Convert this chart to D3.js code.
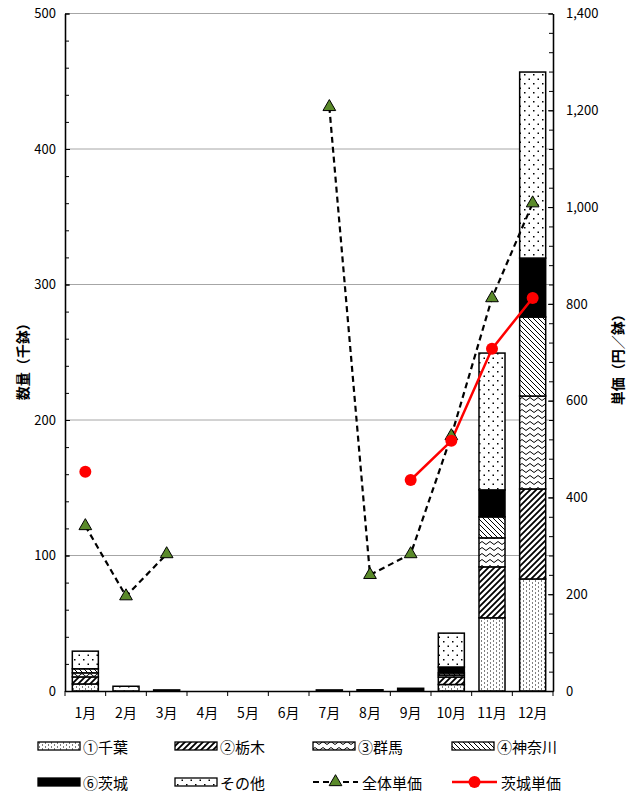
<!DOCTYPE html>
<html><head><meta charset="utf-8">
<script src="https://cdn.jsdelivr.net/npm/d3@7"></script>
<style>body{margin:0;background:#fff}svg{display:block}text{font-family:"Noto Sans CJK JP","Noto Sans",sans-serif}</style>
</head><body>
<script>
const months = ["1月","2月","3月","4月","5月","6月","7月","8月","9月","10月","11月","12月"];
const seriesNames = ["①千葉","②栃木","③群馬","④神奈川","⑥茨城","その他"];
const chiba    = [5.2, 0,   0,   0,0,0, 0,   0,   0,   4.8, 54.0, 82.7];
const tochigi  = [5.2, 0,   0,   0,0,0, 0,   0,   0,   5.5, 37.6, 66.4];
const gunma    = [3.0, 0,   0,   0,0,0, 0,   0,   0,   1.5, 21.4, 68.6];
const kanagawa = [3.0, 0,   0,   0,0,0, 0,   0,   0,   1.5, 15.5, 58.3];
const ibaraki  = [0,   0,   0,   0,0,0, 0,   0,   2.0, 4.4, 19.9, 43.5];
const others   = [13.0,3.5, 0.8, 0,0,0, 0.8, 0.9, 0,   25.0,101.0,137.3];
const priceAll     = [341,196,283,null,null,null,1207,240,283,527,812,1008];
const priceIbaraki = [453,null,null,null,null,null,null,null,436,517,707,812];
const leftTicks = [0,100,200,300,400,500];
const rightTicks = [0,200,400,600,800,1000,1200,1400];

const W=626,H=796, L=65, R=553, T=13.5, B=691;
const svg = d3.select("body").append("svg").attr("width",W).attr("height",H);
const defs = svg.append("defs");
function pat(id,w,h,fn){const p=defs.append("pattern").attr("id",id).attr("patternUnits","userSpaceOnUse").attr("width",w).attr("height",h);p.append("rect").attr("width",w).attr("height",h).attr("fill","#fff");fn(p);}
pat("p0",6,4,p=>{p.append("rect").attr("x",1).attr("y",0.5).attr("width",1).attr("height",1).attr("fill","#000");p.append("rect").attr("x",4).attr("y",2.5).attr("width",1).attr("height",1).attr("fill","#000");});
pat("p1",6,6,p=>p.append("path").attr("d","M-1,1 l2,-2 M0,6 l6,-6 M5,7 l2,-2").attr("stroke","#000").attr("stroke-width",1.8));
pat("p2",8,6,p=>p.append("path").attr("d","M0,3 Q2,0 4,3 T8,3").attr("stroke","#000").attr("stroke-width",1).attr("fill","none"));
pat("p3",5,5,p=>p.append("path").attr("d","M-1,4 l2,2 M0,0 l5,5 M4,-1 l2,2").attr("stroke","#000").attr("stroke-width",1));
pat("p5",9,9,p=>{p.append("rect").attr("x",2).attr("y",2).attr("width",1.5).attr("height",1.5).attr("fill","#000");p.append("rect").attr("x",6.5).attr("y",6.5).attr("width",1.5).attr("height",1.5).attr("fill","#000");});
const fills=["url(#p0)","url(#p1)","url(#p2)","url(#p3)","#000","url(#p5)"];

const x = d3.scaleBand().domain(months).range([L,R]).paddingInner(0.36).paddingOuter(0.18);
const yL = d3.scaleLinear().domain([0,500]).range([B,T]);
const yR = d3.scaleLinear().domain([0,1400]).range([B,T]);

// gridlines
svg.append("g").selectAll("line").data(leftTicks.filter(d=>d>0)).join("line")
  .attr("x1",L).attr("x2",R).attr("y1",d=>yL(d)).attr("y2",d=>yL(d)).attr("stroke","#a6a6a6").attr("stroke-width",1);

// stacked bars
const rows = months.map((m,i)=>({m,v:[chiba[i],tochigi[i],gunma[i],kanagawa[i],ibaraki[i],others[i]]}));
const stack = d3.stack().keys([0,1,2,3,4,5]).value((d,k)=>d.v[k])(rows);
const gb = svg.append("g");
stack.forEach((s,k)=>{
  gb.selectAll(null).data(s.filter(d=>d[1]-d[0]>0)).join("rect")
    .attr("x",d=>x(d.data.m)).attr("width",x.bandwidth())
    .attr("y",d=>yL(d[1])).attr("height",d=>yL(d[0])-yL(d[1]))
    .attr("fill",fills[k]).attr("stroke","#000").attr("stroke-width",1.5);
});

// axes
svg.append("g").attr("transform",`translate(${L},0)`)
  .call(d3.axisLeft(yL).tickValues(leftTicks).tickSizeInner(-5).tickSizeOuter(0).tickPadding(9));
svg.append("g").attr("transform",`translate(${L},0)`)
  .call(d3.axisLeft(yL).tickValues(d3.range(0,501,20)).tickSizeInner(-4).tickSizeOuter(0).tickFormat(""));
svg.append("g").attr("transform",`translate(${R},0)`)
  .call(d3.axisRight(yR).tickValues(rightTicks).tickSizeInner(-5).tickSizeOuter(0).tickPadding(13).tickFormat(d3.format(",")));
svg.append("g").attr("transform",`translate(${R},0)`)
  .call(d3.axisRight(yR).tickValues(d3.range(0,1401,40)).tickSizeInner(-4).tickSizeOuter(0).tickFormat(""));
const axX = svg.append("g").attr("transform",`translate(0,${B})`)
  .call(d3.axisBottom(x).tickSize(0).tickPadding(17));
const bounds = months.map(m=>x(m)-x.step()*x.paddingInner()/2).concat([R]);
svg.append("g").selectAll("line").data(bounds).join("line")
  .attr("x1",d=>d).attr("x2",d=>d).attr("y1",B).attr("y2",B+5).attr("stroke","#000");
svg.selectAll(".domain").attr("stroke","#000").attr("stroke-width",1.3);
svg.selectAll(".tick line").attr("stroke","#000");
svg.selectAll(".tick text").attr("font-size",13).attr("fill","#000");
axX.selectAll(".tick text").attr("font-size",14);

// axis titles
svg.append("text").attr("transform",`translate(22,${(T+B)/2+6}) rotate(-90)`).attr("text-anchor","middle")
  .attr("dominant-baseline","central").attr("font-size",14).attr("font-weight","bold").text("数量（千鉢）");
svg.append("text").attr("transform",`translate(617,${(T+B)/2+4}) rotate(-90)`).attr("text-anchor","middle")
  .attr("dominant-baseline","central").attr("font-size",14).attr("font-weight","bold").text("単価（円／鉢）");

// lines
const cx = m=>x(m)+x.bandwidth()/2;
const lineAll = d3.line().defined(d=>d.v!=null).x(d=>cx(d.m)).y(d=>yR(d.v));
const dAll = months.map((m,i)=>({m,v:priceAll[i]}));
const dIb = months.map((m,i)=>({m,v:priceIbaraki[i]}));
svg.append("path").datum(dAll).attr("d",lineAll).attr("fill","none").attr("stroke","#000").attr("stroke-width",2.2).attr("stroke-dasharray","6,4");
svg.append("path").datum(dIb).attr("d",lineAll).attr("fill","none").attr("stroke","#ff0000").attr("stroke-width",2.5);
const tri = d3.symbol().type(d3.symbolTriangle).size(70);
svg.append("g").selectAll("path").data(dAll.filter(d=>d.v!=null)).join("path")
  .attr("transform",d=>`translate(${cx(d.m)},${yR(d.v)})`).attr("d",tri).attr("fill","#5a8a2a").attr("stroke","#000").attr("stroke-width",1);
svg.append("g").selectAll("circle").data(dIb.filter(d=>d.v!=null)).join("circle")
  .attr("cx",d=>cx(d.m)).attr("cy",d=>yR(d.v)).attr("r",6).attr("fill","#ff0000");

// legend
const leg = svg.append("g");
const colX=[38,175,313,452], rowY=[746,782];
const legItems=[
  {n:seriesNames[0],type:"bar",k:0},{n:seriesNames[1],type:"bar",k:1},{n:seriesNames[2],type:"bar",k:2},{n:seriesNames[3],type:"bar",k:3},
  {n:seriesNames[4],type:"bar",k:4},{n:seriesNames[5],type:"bar",k:5},{n:"全体単価",type:"all"},{n:"茨城単価",type:"ib"}];
legItems.forEach((it,i)=>{
  const gx=colX[i%4], gy=rowY[Math.floor(i/4)];
  const g=leg.append("g").attr("transform",`translate(${gx},${gy})`);
  if(it.type==="bar"){
    g.append("rect").attr("x",0).attr("y",-4).attr("width",42).attr("height",8).attr("fill",fills[it.k]).attr("stroke","#000").attr("stroke-width",1.3);
  } else if(it.type==="all"){
    g.append("line").attr("x1",0).attr("x2",45).attr("stroke","#000").attr("stroke-width",2.2).attr("stroke-dasharray","6,4");
    g.append("path").attr("transform","translate(22.5,0)").attr("d",tri).attr("fill","#5a8a2a").attr("stroke","#000");
  } else {
    g.append("line").attr("x1",0).attr("x2",45).attr("stroke","#ff0000").attr("stroke-width",2.5);
    g.append("circle").attr("cx",22.5).attr("r",6).attr("fill","#ff0000");
  }
  g.append("text").attr("x",it.type==="bar"?45:49).attr("y",0).attr("dominant-baseline","central").attr("font-size",15).text(it.n);
});
</script>
</body></html>
